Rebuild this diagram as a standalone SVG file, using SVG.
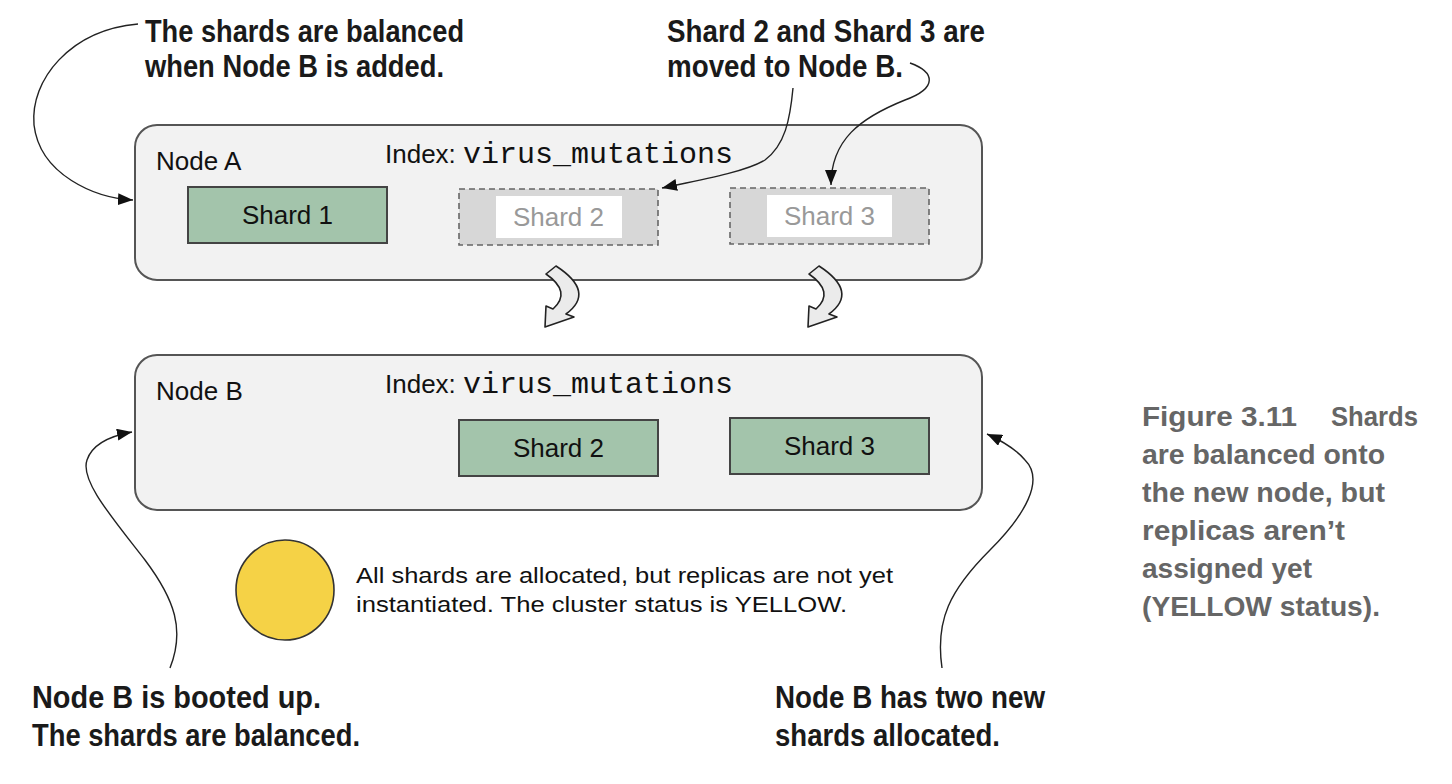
<svg xmlns="http://www.w3.org/2000/svg" width="1452" height="784" viewBox="0 0 1452 784">
<defs>
<style>
.node{fill:#f2f2f2;stroke:#555;stroke-width:2}
.shard{fill:#a3c4ab;stroke:#444;stroke-width:2}
.ghost{fill:#d7d7d7;stroke:#666;stroke-width:1.6;stroke-dasharray:6 4}
.inner{fill:#fff}
.lbl{font-family:"Liberation Sans",Arial,sans-serif;font-size:26px;fill:#111}
.glbl{font-family:"Liberation Sans",Arial,sans-serif;font-size:26px;fill:#999}
.mono{font-family:"Liberation Mono","Courier New",monospace;font-size:30px;fill:#111}
.ann{font-family:"Liberation Sans",Arial,sans-serif;font-weight:bold;font-size:31px;fill:#1a1a1a}
.cap{font-family:"Liberation Sans",Arial,sans-serif;font-weight:bold;font-size:27px;fill:#666}
.body{font-family:"Liberation Sans",Arial,sans-serif;font-size:22px;fill:#111}
.conn{fill:none;stroke:#222;stroke-width:1.4}
.fat{fill:#ebebeb;stroke:#222;stroke-width:1.6;stroke-linejoin:round}
</style>
<marker id="ah" markerUnits="userSpaceOnUse" markerWidth="16" markerHeight="12" refX="15" refY="6" orient="auto">
<path d="M0,0 L15,6 L0,12 z" fill="#111"/>
</marker>
</defs>
<rect width="1452" height="784" fill="#fff"/>

<g id="nodeA">
<rect class="node" x="135" y="125" width="847" height="155" rx="22"/>
<text class="lbl" x="156" y="170">Node A</text>
<text x="385" y="163"><tspan class="lbl">Index: </tspan><tspan class="mono">virus_mutations</tspan></text>
</g>
<g id="shard1A">
<rect class="shard" x="188" y="187" width="199" height="56"/>
<text class="lbl" x="287.5" y="224" text-anchor="middle">Shard 1</text>
</g>
<g id="shard2A">
<rect class="ghost" x="459" y="189" width="199" height="56"/>
<rect class="inner" x="496" y="196" width="126" height="42"/>
<text class="glbl" x="558.5" y="226" text-anchor="middle">Shard 2</text>
</g>
<g id="shard3A">
<rect class="ghost" x="730" y="188" width="199" height="56"/>
<rect class="inner" x="767" y="195" width="125" height="42"/>
<text class="glbl" x="829.5" y="225" text-anchor="middle">Shard 3</text>
</g>

<g id="nodeB">
<rect class="node" x="135" y="355" width="847" height="155" rx="22"/>
<text class="lbl" x="156" y="400">Node B</text>
<text x="385" y="393"><tspan class="lbl">Index: </tspan><tspan class="mono">virus_mutations</tspan></text>
</g>
<g id="shard2B">
<rect class="shard" x="459" y="420" width="199" height="56"/>
<text class="lbl" x="558.5" y="457" text-anchor="middle">Shard 2</text>
</g>
<g id="shard3B">
<rect class="shard" x="730" y="418" width="199" height="56"/>
<text class="lbl" x="829.5" y="455" text-anchor="middle">Shard 3</text>
</g>

<g id="status">
<ellipse cx="285" cy="590" rx="49" ry="50" fill="#f5d246" stroke="#333" stroke-width="1.6"/>
<text class="body" x="356" y="583" textLength="537" lengthAdjust="spacingAndGlyphs">All shards are allocated, but replicas are not yet</text>
<text class="body" x="356" y="612" textLength="491" lengthAdjust="spacingAndGlyphs">instantiated. The cluster status is YELLOW.</text>
</g>

<g id="annotations">
<text class="ann" x="145" y="42" textLength="319" lengthAdjust="spacingAndGlyphs">The shards are balanced</text>
<text class="ann" x="145" y="77" textLength="299" lengthAdjust="spacingAndGlyphs">when Node B is added.</text>
<text class="ann" x="667" y="42" textLength="318" lengthAdjust="spacingAndGlyphs">Shard 2 and Shard 3 are</text>
<text class="ann" x="667" y="77" textLength="236" lengthAdjust="spacingAndGlyphs">moved to Node B.</text>
<text class="ann" x="32" y="708" textLength="289" lengthAdjust="spacingAndGlyphs">Node B is booted up.</text>
<text class="ann" x="32" y="746" textLength="328" lengthAdjust="spacingAndGlyphs">The shards are balanced.</text>
<text class="ann" x="775" y="708" textLength="270" lengthAdjust="spacingAndGlyphs">Node B has two new</text>
<text class="ann" x="775" y="746" textLength="225" lengthAdjust="spacingAndGlyphs">shards allocated.</text>
</g>

<g id="caption">
<text class="cap" x="1142" y="426" textLength="155" lengthAdjust="spacingAndGlyphs">Figure 3.11</text>
<text class="cap" x="1331" y="426" textLength="87" lengthAdjust="spacingAndGlyphs">Shards</text>
<text class="cap" x="1142" y="464" textLength="243" lengthAdjust="spacingAndGlyphs">are balanced onto</text>
<text class="cap" x="1142" y="502" textLength="243" lengthAdjust="spacingAndGlyphs">the new node, but</text>
<text class="cap" x="1142" y="540" textLength="203" lengthAdjust="spacingAndGlyphs">replicas aren’t</text>
<text class="cap" x="1142" y="578" textLength="170" lengthAdjust="spacingAndGlyphs">assigned yet</text>
<text class="cap" x="1142" y="616" textLength="238" lengthAdjust="spacingAndGlyphs">(YELLOW status).</text>
</g>

<g id="connectors">
<path class="conn" marker-end="url(#ah)" d="M138,24 C70,30 30,80 34,125 C40,175 95,198 133,200"/>
<path class="conn" marker-end="url(#ah)" d="M793,88 C790,120 785,145 765,160 C745,172 700,180 662,188"/>
<path class="conn" marker-end="url(#ah)" d="M910,63 C935,72 938,88 905,100 C860,118 831,140 831,185"/>
<path class="conn" marker-end="url(#ah)" d="M170,668 C185,630 175,600 145,560 C110,515 80,480 87,460 C92,445 110,436 132,432"/>
<path class="conn" marker-end="url(#ah)" d="M942,668 C935,620 950,590 990,550 C1025,515 1045,480 1025,460 C1015,448 1000,440 987,434"/>
<path class="fat" d="M546,274 L556,266 Q596,292 566,314 L574,317 L545,327 L546,306 L553,309 Q572,292 546,274 Z"/>
<path class="fat" d="M809,274 L819,266 Q859,292 829,314 L837,317 L808,327 L809,306 L816,309 Q835,292 809,274 Z"/>
</g>
</svg>
